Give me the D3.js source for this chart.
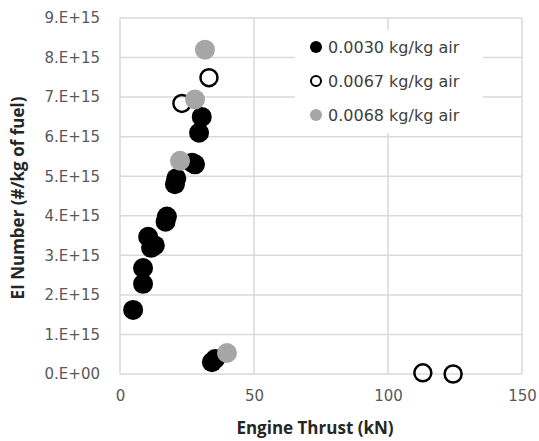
<!DOCTYPE html>
<html><head><meta charset="utf-8">
<script src="https://cdn.jsdelivr.net/npm/d3@7"></script>
<style>body{margin:0;background:#fff;}svg{display:block;font-family:"Open Sans",sans-serif;}</style>
</head><body>
<svg id="c" width="539" height="441"></svg>
<script>
const seriesNames = ["0.0030 kg/kg air", "0.0067 kg/kg air", "0.0068 kg/kg air"];
const blackX = [4.9, 8.6, 8.6, 10.5, 11.6, 13.0, 17.0, 17.5, 20.5, 21.0, 26.9, 28.0, 29.5, 30.5, 34.3, 35.5];
const blackY = [1.62, 2.28, 2.68, 3.47, 3.19, 3.25, 3.85, 3.98, 4.80, 4.95, 5.34, 5.30, 6.10, 6.50, 0.30, 0.38];
const openX = [33.2, 23.1, 113, 124.3];
const openY = [7.49, 6.84, 0.03, 0.0];
const grayX = [31.7, 28.0, 22.4, 39.9];
const grayY = [8.2, 6.94, 5.39, 0.53];
const xTicks = [0, 50, 100, 150];
const yTicks = [0, 1, 2, 3, 4, 5, 6, 7, 8, 9];
const yTickLabels = ["0.E+00","1.E+15","2.E+15","3.E+15","4.E+15","5.E+15","6.E+15","7.E+15","8.E+15","9.E+15"];

const svg = d3.select("#c");
const L = 120, R = 522, T = 18, B = 374;
const x = d3.scaleLinear().domain([0, 150]).range([L, R]);
const y = d3.scaleLinear().domain([0, 9]).range([B, T]);
const tickFont = "'DejaVu Sans', sans-serif";

// grid
svg.append("g").selectAll("line").data(yTicks).join("line")
  .attr("x1", L).attr("x2", R).attr("y1", d => y(d)).attr("y2", d => y(d))
  .attr("stroke", "#d9d9d9").attr("stroke-width", 1.5);
svg.append("g").selectAll("line").data(xTicks).join("line")
  .attr("y1", T).attr("y2", B).attr("x1", d => x(d)).attr("x2", d => x(d))
  .attr("stroke", "#d9d9d9").attr("stroke-width", 1.5);

// axes
const xAxis = svg.append("g").attr("transform", `translate(0,${B})`)
  .call(d3.axisBottom(x).tickValues(xTicks).tickSize(0).tickPadding(16));
xAxis.select(".domain").remove();
xAxis.selectAll("text").attr("font-size", 15).attr("fill", "#595959").attr("font-family", tickFont);
const yAxis = svg.append("g").attr("transform", `translate(${L},0)`)
  .call(d3.axisLeft(y).tickValues(yTicks).tickFormat((d, i) => yTickLabels[i]).tickSize(0).tickPadding(20));
yAxis.select(".domain").remove();
yAxis.selectAll("text").attr("font-size", 15).attr("fill", "#595959").attr("font-family", tickFont);

// titles
svg.append("text").attr("x", 315).attr("y", 434).attr("text-anchor", "middle")
  .attr("font-size", 17).attr("font-weight", "bold").attr("fill", "#262626").text("Engine Thrust (kN)");
svg.append("text").attr("transform", `translate(24,${(T + B) / 2 + 2}) rotate(-90)`).attr("text-anchor", "middle")
  .attr("font-size", 17).attr("font-weight", "bold").attr("fill", "#262626").text("EI Number (#/kg of fuel)");

// points
const blackData = blackX.map((v, i) => [v, blackY[i]]);
const openData = openX.map((v, i) => [v, openY[i]]);
const grayData = grayX.map((v, i) => [v, grayY[i]]);
svg.append("g").selectAll("circle").data(blackData).join("circle")
  .attr("cx", d => x(d[0])).attr("cy", d => y(d[1])).attr("r", 10).attr("fill", "#000");
svg.append("g").selectAll("circle").data(openData).join("circle")
  .attr("cx", d => x(d[0])).attr("cy", d => y(d[1])).attr("r", 8.5).attr("fill", "none")
  .attr("stroke", "#000").attr("stroke-width", 2.5);
svg.append("g").selectAll("circle").data(grayData).join("circle")
  .attr("cx", d => x(d[0])).attr("cy", d => y(d[1])).attr("r", 10).attr("fill", "#a6a6a6");

// legend
const lg = svg.append("g");
lg.append("rect").attr("x", 295).attr("y", 30).attr("width", 188).attr("height", 103).attr("fill", "#fff");
const legendY = [47, 81, 115];
seriesNames.forEach((name, i) => {
  const cy = legendY[i];
  const c = lg.append("circle").attr("cx", 316).attr("cy", cy).attr("r", i === 1 ? 5 : 6);
  if (i === 0) c.attr("fill", "#000");
  else if (i === 1) c.attr("fill", "none").attr("stroke", "#000").attr("stroke-width", 2);
  else c.attr("fill", "#a6a6a6");
  lg.append("text").attr("x", 328).attr("y", cy + 6).attr("font-size", 16).attr("fill", "#404040")
    .attr("font-family", tickFont).text(name);
});
</script>
</body></html>
